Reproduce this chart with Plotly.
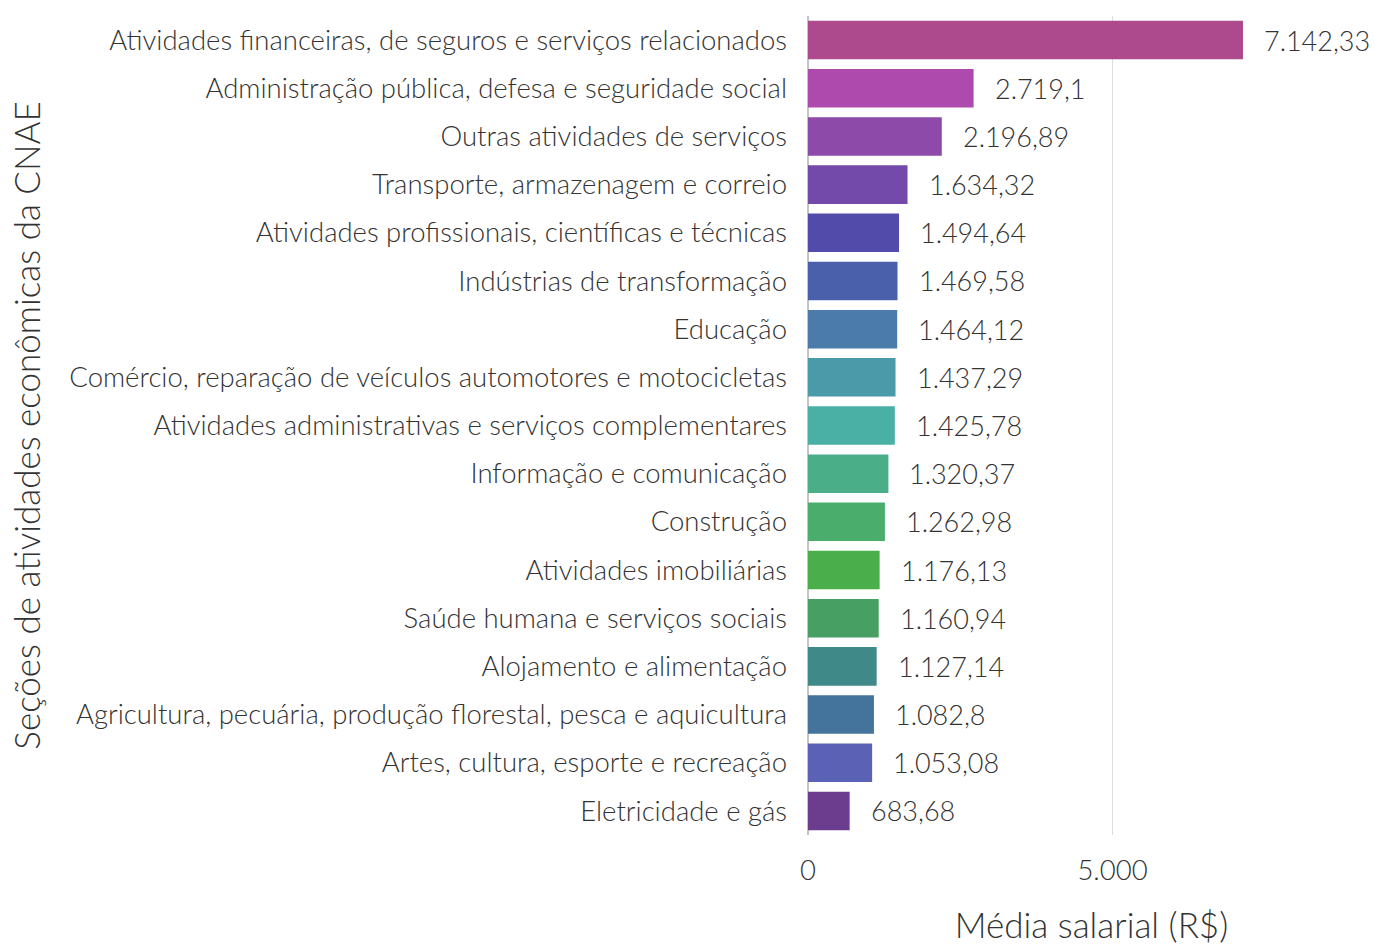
import plotly.graph_objects as go

categorias = [
    "Atividades financeiras, de seguros e serviços relacionados",
    "Administração pública, defesa e seguridade social",
    "Outras atividades de serviços",
    "Transporte, armazenagem e correio",
    "Atividades profissionais, científicas e técnicas",
    "Indústrias de transformação",
    "Educação",
    "Comércio, reparação de veículos automotores e motocicletas",
    "Atividades administrativas e serviços complementares",
    "Informação e comunicação",
    "Construção",
    "Atividades imobiliárias",
    "Saúde humana e serviços sociais",
    "Alojamento e alimentação",
    "Agricultura, pecuária, produção florestal, pesca e aquicultura",
    "Artes, cultura, esporte e recreação",
    "Eletricidade e gás",
]
media_salarial = [7142.33, 2719.10, 2196.89, 1634.32, 1494.64, 1469.58, 1464.12,
                  1437.29, 1425.78, 1320.37, 1262.98, 1176.13, 1160.94, 1127.14,
                  1082.80, 1053.08, 683.68]
cores = ["#AD4A8E", "#AE4AAE", "#8E4AA9", "#734AA9", "#534BA9", "#4A60AA",
         "#4A7BAA", "#4A9AAA", "#4AAFA4", "#4AAF88", "#4AAD6C", "#4AAF4A",
         "#479F63", "#3F8A89", "#44739C", "#5B62B5", "#6C3D8E"]
x_ticks = [0, 5000]


def fmt_br(v):
    s = f"{v:,.2f}".rstrip("0").rstrip(".")
    return s.replace(",", "X").replace(".", ",").replace("X", ".")


FONT = "Lato Light, Lato, sans-serif"
TXT = "#333333"
TS = 27.5
TV = 27
TT = 35

fig = go.Figure()
fig.add_trace(go.Bar(
    x=media_salarial, y=categorias, orientation="h",
    marker=dict(color=cores, line=dict(width=0)),
    width=0.8, hoverinfo="x+y",
))

for c, v in zip(categorias, media_salarial):
    fig.add_annotation(x=v, y=c, text=fmt_br(v), showarrow=False,
                       xanchor="left", xshift=19,
                       font=dict(family=FONT, size=TV, color=TXT, weight=300))

fig.update_layout(
    width=1375, height=945,
    paper_bgcolor="white", plot_bgcolor="white",
    separators=",.",
    margin=dict(l=808, r=0, t=16, b=110, autoexpand=False),
    font=dict(family=FONT, size=TS, color=TXT, weight=300),
    showlegend=False,
    xaxis=dict(
        range=[0, 9310], tickvals=x_ticks, tickformat=",d",
        showgrid=True, gridcolor="#DDDDDD", gridwidth=1,
        zeroline=True, zerolinecolor="#C4C4C4", zerolinewidth=2,
        showline=False, ticks="", ticklabelstandoff=16,
        tickfont=dict(family=FONT, size=TS, color=TXT, weight=300),
        title=dict(text="Média salarial (R$)", standoff=33,
                   font=dict(family=FONT, size=TT, color=TXT, weight=300)),
        automargin=False, fixedrange=True,
    ),
    yaxis=dict(
        categoryorder="array", categoryarray=categorias[::-1],
        showgrid=False, zeroline=False, showline=False, ticks="",
        ticklabelstandoff=20,
        tickfont=dict(family=FONT, size=TS, color=TXT, weight=300),
        title=dict(text="Seções de atividades econômicas da CNAE", standoff=18,
                   font=dict(family=FONT, size=TT, color=TXT, weight=300)),
        automargin=False, fixedrange=True,
    ),
)

fig.write_html("out.html", config={"displayModeBar": False},
               post_script="document.body.style.margin='0';document.body.style.overflow='hidden';")
